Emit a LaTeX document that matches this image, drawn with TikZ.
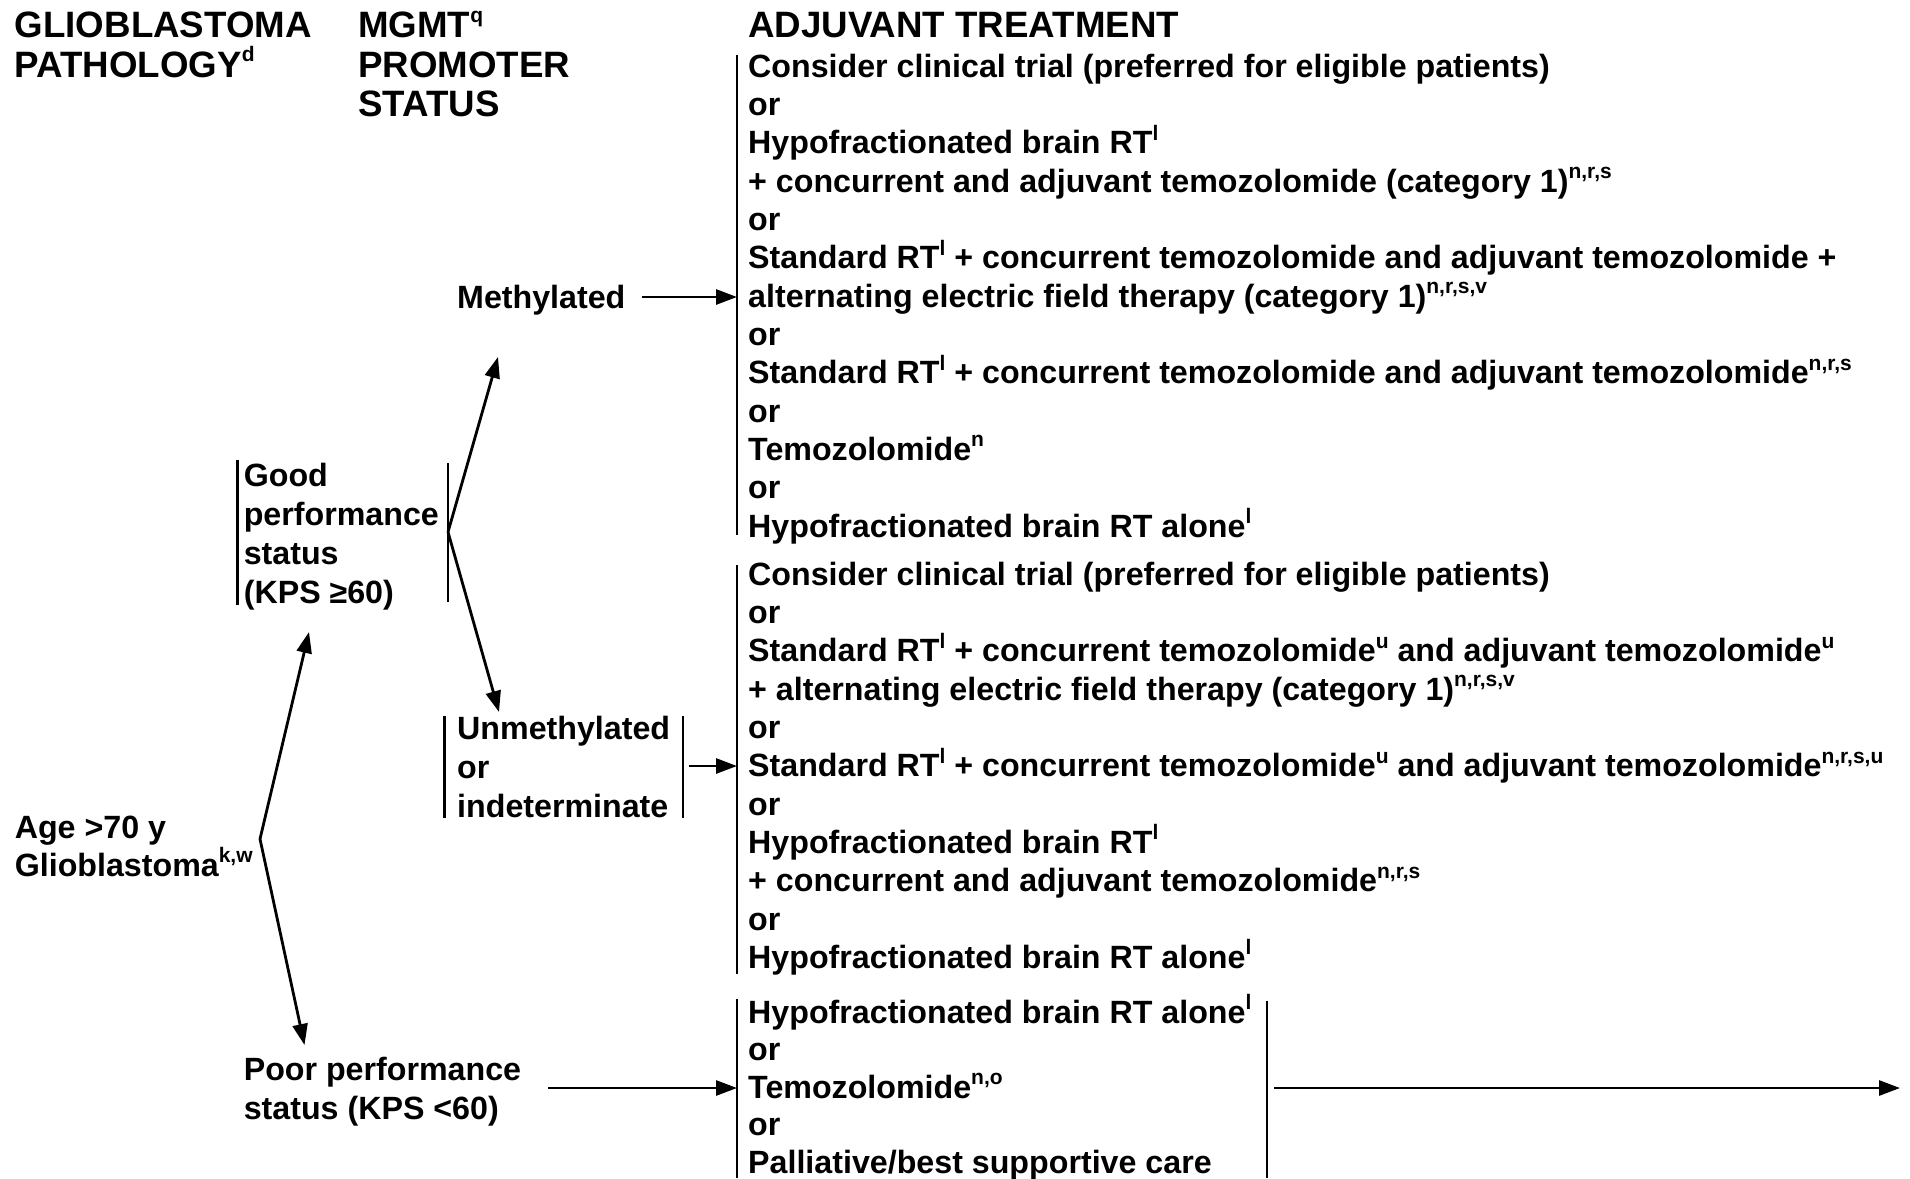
\documentclass[tikz,border=0pt]{standalone}
\usepackage{fontspec}
\setmainfont{Liberation Sans}
\usetikzlibrary{arrows.meta}
% small raised footnote letters
\newcommand\sps[1]{\raisebox{0.42em}{\fontsize{21}{21}\selectfont #1}}
\begin{document}
\begin{tikzpicture}[x=1pt,y=-1pt,
  txt/.style={anchor=base west, inner sep=0pt, font=\fontsize{32.2}{38}\selectfont\bfseries},
  hdr/.style={anchor=base west, inner sep=0pt, font=\fontsize{36.7}{40}\selectfont\bfseries},
  arr/.style={line width=2.8pt, -{Triangle[length=21pt,width=15pt]}},
  bar/.style={line width=2.5pt}]
\fill[white] (0,0) rectangle (1910,1178);
\useasboundingbox (0,0) rectangle (1910,1178);

% column headings
\node[hdr] (h1a) at (14.6,37.5) {GLIOBLASTOMA};
\node[hdr] (h1b) at (14.6,77) {PATHOLOGY\sps{d}};
\node[hdr] (h2a) at (358,37.5) {MGMT\sps{q}};
\node[hdr] (h2b) at (358,77) {PROMOTER};
\node[hdr] (h2c) at (358,116.5) {STATUS};
\node[hdr] (h3) at (748,37.8) {ADJUVANT TREATMENT};

% left column
\node[txt] (age1) at (14.6,838) {Age >70 y};
\node[txt] (age2) at (14.6,876) {Glioblastoma\sps{k,w}};
\coordinate (ageTip) at (260,839);

\node[txt] (good1) at (243.6,486) {Good};
\node[txt] (good2) at (243.6,525) {performance};
\node[txt] (good3) at (243.6,564) {status};
\node[txt] (good4) at (243.6,603) {(KPS ≥60)};
\coordinate (goodL1) at (237.5,460); \coordinate (goodL2) at (237.5,605);
\coordinate (goodR1) at (448,463);   \coordinate (goodR2) at (448,602);
\coordinate (goodTip) at (448,532);
\coordinate (goodIn) at (309,632);

\node[txt] (poor1) at (243.6,1080) {Poor performance};
\node[txt] (poor2) at (243.6,1119) {status (KPS <60)};
\coordinate (poorIn) at (304.5,1045);
\coordinate (poorOut) at (548,1088);

% MGMT status
\node[txt] (meth) at (457,308) {Methylated};
\coordinate (methIn) at (498,357);
\coordinate (methOut) at (642,297);

\node[txt] (un1) at (457,739) {Unmethylated};
\node[txt] (un2) at (457,778) {or};
\node[txt] (un3) at (457,817) {indeterminate};
\coordinate (unL1) at (444.6,716); \coordinate (unL2) at (444.6,818);
\coordinate (unR1) at (683,716);   \coordinate (unR2) at (683,818);
\coordinate (unIn) at (499,712);
\coordinate (unOut) at (689,766);

% treatment options, methylated
\node[txt] (a0) at (748,77.0) {Consider clinical trial (preferred for eligible patients)};
\node[txt] (a1) at (748,115.3) {or};
\node[txt] (a2) at (748,153.7) {Hypofractionated brain RT\sps{l}};
\node[txt] (a3) at (748,192.0) {+ concurrent and adjuvant temozolomide (category 1)\sps{n,r,s}};
\node[txt] (a4) at (748,230.3) {or};
\node[txt] (a5) at (748,268.7) {Standard RT\sps{l} + concurrent temozolomide and adjuvant temozolomide +};
\node[txt] (a6) at (748,307.0) {alternating electric field therapy (category 1)\sps{n,r,s,v}};
\node[txt] (a7) at (748,345.3) {or};
\node[txt] (a8) at (748,383.6) {Standard RT\sps{l} + concurrent temozolomide and adjuvant temozolomide\sps{n,r,s}};
\node[txt] (a9) at (748,422.0) {or};
\node[txt] (a10) at (748,460.3) {Temozolomide\sps{n}};
\node[txt] (a11) at (748,498.6) {or};
\node[txt] (a12) at (748,537.0) {Hypofractionated brain RT alone\sps{l}};
\coordinate (aTop) at (737,55); \coordinate (aBot) at (737,535);
\coordinate (aIn) at (737,297);

% treatment options, unmethylated or indeterminate
\node[txt] (b0) at (748,585.0) {Consider clinical trial (preferred for eligible patients)};
\node[txt] (b1) at (748,623.3) {or};
\node[txt] (b2) at (748,661.7) {Standard RT\sps{l} + concurrent temozolomide\sps{u} and adjuvant temozolomide\sps{u}};
\node[txt] (b3) at (748,700.0) {+ alternating electric field therapy (category 1)\sps{n,r,s,v}};
\node[txt] (b4) at (748,738.3) {or};
\node[txt] (b5) at (748,776.7) {Standard RT\sps{l} + concurrent temozolomide\sps{u} and adjuvant temozolomide\sps{n,r,s,u}};
\node[txt] (b6) at (748,815.0) {or};
\node[txt] (b7) at (748,853.3) {Hypofractionated brain RT\sps{l}};
\node[txt] (b8) at (748,891.7) {+ concurrent and adjuvant temozolomide\sps{n,r,s}};
\node[txt] (b9) at (748,930.0) {or};
\node[txt] (b10) at (748,968.3) {Hypofractionated brain RT alone\sps{l}};
\coordinate (bTop) at (737,565); \coordinate (bBot) at (737,974);
\coordinate (bIn) at (737,766);

% treatment options, poor performance status
\node[txt] (c0) at (748,1023.0) {Hypofractionated brain RT alone\sps{l}};
\node[txt] (c1) at (748,1060.5) {or};
\node[txt] (c2) at (748,1098.0) {Temozolomide\sps{n,o}};
\node[txt] (c3) at (748,1135.5) {or};
\node[txt] (c4) at (748,1173.0) {Palliative/best supportive care};
\coordinate (cTop) at (737,999); \coordinate (cBot) at (737,1178);
\coordinate (cRTop) at (1267,1001); \coordinate (cRBot) at (1267,1178);
\coordinate (cIn) at (737,1088);
\coordinate (cOut) at (1274,1088);
\coordinate (cEnd) at (1900,1088);

% brackets
\draw[bar] (goodL1) -- (goodL2);
\draw[bar] (goodR1) -- (goodR2);
\draw[bar] (unL1) -- (unL2);
\draw[bar] (unR1) -- (unR2);
\draw[bar] (aTop) -- (aBot);
\draw[bar] (bTop) -- (bBot);
\draw[bar] (cTop) -- (cBot);
\draw[bar] (cRTop) -- (cRBot);

% connectors
\draw[arr] (ageTip) -- (goodIn);
\draw[arr] (ageTip) -- (poorIn);
\draw[arr] (goodTip) -- (methIn);
\draw[arr] (goodTip) -- (unIn);
\draw[arr] (methOut) -- (aIn);
\draw[arr] (unOut) -- (bIn);
\draw[arr] (poorOut) -- (cIn);
\draw[arr] (cOut) -- (cEnd);
\end{tikzpicture}
\end{document}
